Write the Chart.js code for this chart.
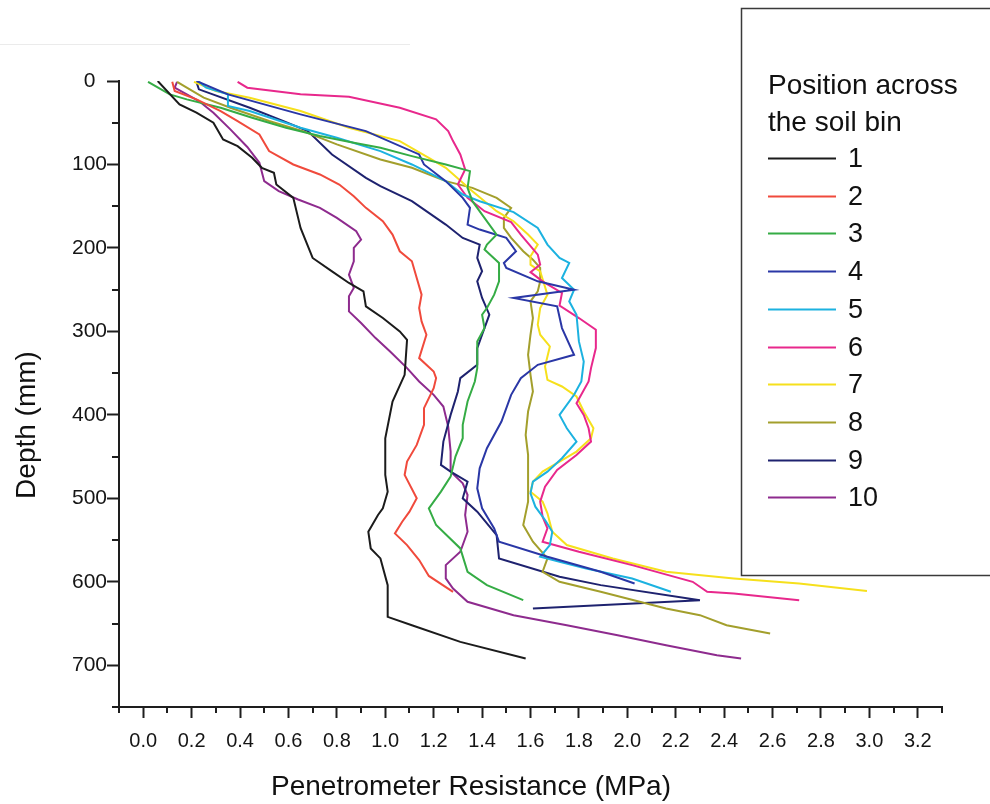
<!DOCTYPE html>
<html>
<head>
<meta charset="utf-8">
<title>Penetrometer resistance profiles</title>
<script src="https://cdn.jsdelivr.net/npm/chart.js@4.4.0/dist/chart.umd.min.js"></script>
<style>
  html, body { margin: 0; padding: 0; background: #ffffff; }
  canvas { display: block; }
</style>
</head>
<body>
<canvas id="chart" width="990" height="804"></canvas>
<script>
// Penetrometer resistance (MPa) against depth (mm) at ten positions across the soil bin.
// Each profile is a list of [resistance, depth] readings.
const pos1 = [[0.06,0],[0.15,28],[0.22,38],[0.29,50],[0.33,70],[0.39,78],[0.45,92],[0.49,104],[0.54,110],[0.55,124],[0.62,140],[0.64,164],[0.65,176],[0.70,212],[0.78,228],[0.85,242],[0.91,252],[0.92,270],[0.99,284],[1.06,300],[1.09,310],[1.08,352],[1.03,384],[1.00,428],[1.00,472],[1.01,492],[0.99,512],[0.97,520],[0.93,540],[0.94,560],[0.98,572],[1.01,604],[1.01,642],[1.11,652],[1.31,672],[1.58,692]];
const pos2 = [[0.12,1],[0.13,12],[0.22,22],[0.32,36],[0.39,48],[0.48,64],[0.52,84],[0.62,100],[0.73,112],[0.81,124],[0.87,138],[0.92,152],[0.99,168],[1.03,184],[1.06,204],[1.11,216],[1.13,236],[1.15,256],[1.14,272],[1.15,288],[1.17,304],[1.14,332],[1.20,348],[1.21,356],[1.20,368],[1.16,392],[1.16,412],[1.13,436],[1.09,456],[1.08,472],[1.13,500],[1.10,516],[1.07,528],[1.04,542],[1.09,556],[1.14,574],[1.18,593],[1.28,612]];
const pos3 = [[0.02,1],[0.11,16],[0.18,22],[0.32,32],[0.45,44],[0.59,56],[0.73,66],[0.87,74],[0.98,80],[1.11,90],[1.25,100],[1.35,108],[1.34,128],[1.36,144],[1.40,160],[1.46,184],[1.42,196],[1.41,202],[1.47,218],[1.47,240],[1.45,256],[1.42,272],[1.40,280],[1.41,296],[1.38,312],[1.38,332],[1.38,344],[1.37,360],[1.34,384],[1.32,412],[1.32,428],[1.29,450],[1.27,474],[1.23,492],[1.18,512],[1.21,532],[1.31,560],[1.34,588],[1.42,604],[1.57,622]];
const pos4 = [[0.22,0],[0.35,16],[0.65,40],[0.92,60],[1.14,88],[1.16,100],[1.25,120],[1.32,140],[1.35,152],[1.34,172],[1.39,178],[1.50,188],[1.54,204],[1.49,218],[1.50,224],[1.63,240],[1.78,250],[1.53,260],[1.71,270],[1.73,296],[1.78,328],[1.63,340],[1.56,356],[1.52,376],[1.48,408],[1.42,440],[1.39,464],[1.38,488],[1.40,512],[1.45,536],[1.47,552],[1.67,570],[1.89,588],[2.03,602]];
const pos5 = [[0.23,1],[0.26,8],[0.35,16],[0.35,30],[0.44,36],[0.65,56],[0.80,68],[0.98,84],[1.11,100],[1.25,120],[1.32,136],[1.39,144],[1.53,157],[1.63,176],[1.67,196],[1.72,212],[1.76,218],[1.73,236],[1.78,250],[1.76,264],[1.79,280],[1.80,312],[1.82,336],[1.81,360],[1.78,376],[1.72,400],[1.75,416],[1.79,432],[1.73,452],[1.67,468],[1.61,480],[1.60,494],[1.62,510],[1.66,526],[1.69,540],[1.68,556],[1.64,570],[1.72,576],[1.83,584],[2.02,596],[2.18,612]];
const pos6 = [[0.39,1],[0.43,8],[0.65,16],[0.85,19],[1.06,32],[1.21,46],[1.26,60],[1.28,72],[1.31,88],[1.33,106],[1.30,124],[1.34,140],[1.41,156],[1.52,169],[1.56,184],[1.63,208],[1.64,220],[1.60,229],[1.65,240],[1.73,254],[1.72,269],[1.80,284],[1.87,298],[1.87,320],[1.85,344],[1.84,360],[1.79,386],[1.82,400],[1.84,416],[1.85,432],[1.79,448],[1.71,466],[1.66,486],[1.64,504],[1.65,522],[1.67,536],[1.65,552],[1.80,564],[2.02,580],[2.27,600],[2.33,612],[2.44,614],[2.71,622]];
const pos7 = [[0.21,1],[0.30,12],[0.44,20],[0.65,36],[0.85,56],[1.06,72],[1.18,92],[1.25,104],[1.36,132],[1.46,156],[1.53,168],[1.59,184],[1.63,196],[1.60,210],[1.60,220],[1.64,228],[1.67,256],[1.64,272],[1.63,292],[1.64,304],[1.68,318],[1.66,342],[1.67,358],[1.73,366],[1.79,378],[1.82,396],[1.86,416],[1.85,428],[1.79,444],[1.72,456],[1.65,468],[1.61,480],[1.60,492],[1.65,504],[1.67,518],[1.69,540],[1.75,556],[1.94,572],[2.16,588],[2.44,596],[2.71,602],[2.99,611]];
const pos8 = [[0.14,1],[0.18,8],[0.25,20],[0.36,32],[0.52,48],[0.66,60],[0.80,76],[0.98,94],[1.11,104],[1.25,120],[1.36,128],[1.46,140],[1.52,152],[1.49,164],[1.49,176],[1.52,188],[1.57,204],[1.61,214],[1.64,224],[1.64,240],[1.63,252],[1.60,264],[1.61,284],[1.60,304],[1.59,328],[1.60,352],[1.61,372],[1.59,396],[1.58,424],[1.59,448],[1.59,480],[1.59,504],[1.57,532],[1.61,552],[1.67,572],[1.65,588],[1.72,600],[1.89,612],[2.16,632],[2.30,640],[2.41,652],[2.59,662]];
const pos9 = [[0.22,1],[0.23,10],[0.44,32],[0.58,48],[0.68,60],[0.78,88],[0.92,116],[0.98,126],[1.11,144],[1.25,172],[1.32,188],[1.39,196],[1.38,212],[1.40,228],[1.38,240],[1.40,260],[1.43,280],[1.40,304],[1.38,320],[1.38,340],[1.31,356],[1.30,372],[1.27,400],[1.24,432],[1.23,460],[1.27,468],[1.34,480],[1.32,500],[1.38,516],[1.46,544],[1.47,572],[1.72,594],[1.89,604],[2.30,622],[1.61,632]];
const pos10 = [[0.14,1],[0.13,8],[0.18,16],[0.23,24],[0.29,38],[0.36,58],[0.43,79],[0.48,98],[0.50,120],[0.56,132],[0.64,142],[0.73,152],[0.80,164],[0.88,180],[0.90,190],[0.87,200],[0.87,216],[0.85,232],[0.87,248],[0.85,258],[0.85,276],[0.90,290],[0.96,308],[1.02,324],[1.09,344],[1.14,360],[1.20,376],[1.24,390],[1.26,414],[1.27,444],[1.27,468],[1.32,482],[1.34,496],[1.33,520],[1.34,540],[1.31,564],[1.25,580],[1.25,596],[1.28,608],[1.34,624],[1.53,640],[1.75,652],[1.96,664],[2.16,676],[2.37,688],[2.47,692]];

const seriesLabels = ['1', '2', '3', '4', '5', '6', '7', '8', '9', '10'];
const xTickLabels = ['0.0','0.2','0.4','0.6','0.8','1.0','1.2','1.4','1.6','1.8','2.0','2.2','2.4','2.6','2.8','3.0','3.2'];
const yTickLabels = ['0','100','200','300','400','500','600','700'];
const legendTitle = ['Position across', 'the soil bin'];
const xTitle = 'Penetrometer Resistance (MPa)';
const yTitle = 'Depth (mm)';

// Line colours, one per position
const lineColors = ['#1b1b1b', '#f04a3c', '#35ac45', '#2a37a6', '#1cb2e0', '#e8288c', '#f6e01c', '#a39f2c', '#1e226f', '#8e2b8e'];

const profiles = [pos1, pos2, pos3, pos4, pos5, pos6, pos7, pos8, pos9, pos10];
const FONT = '"Liberation Sans", Arial, Helvetica, sans-serif';
const AXIS = '#1e1e1e';
const CLEAR = 'rgba(0,0,0,0)';

const datasets = profiles.map((p, i) => ({
  label: seriesLabels[i],
  data: p.map(([x, y]) => ({ x, y })),
  showLine: true,
  borderColor: lineColors[i],
  backgroundColor: lineColors[i],
  borderWidth: 2,
  pointRadius: 0,
  tension: 0,
  fill: false
}));

// Short minor ticks, axis titles and the boxed legend
const decorations = {
  id: 'decorations',
  afterDraw(chart) {
    const { ctx, scales: { x, y } } = chart;
    ctx.save();

    // faint rule along the top left
    ctx.strokeStyle = '#ebebeb';
    ctx.lineWidth = 1;
    ctx.beginPath(); ctx.moveTo(0, 44.5); ctx.lineTo(410, 44.5); ctx.stroke();

    ctx.strokeStyle = AXIS;
    ctx.lineWidth = 2;
    ctx.beginPath();
    for (let t = -1; t <= 33; t += 2) {
      const px = Math.round(x.getPixelForValue(t / 10));
      ctx.moveTo(px, x.top); ctx.lineTo(px, x.top + 6);
    }
    for (let d = 50; d <= 750; d += 100) {
      const py = Math.round(y.getPixelForValue(d));
      ctx.moveTo(y.right, py); ctx.lineTo(y.right - 7, py);
    }
    ctx.stroke();

    // axis titles
    ctx.fillStyle = '#111';
    ctx.textAlign = 'center';
    ctx.textBaseline = 'middle';
    ctx.font = '28px ' + FONT;
    ctx.fillText(xTitle, 471, 787);
    ctx.save();
    ctx.translate(27, 425);
    ctx.rotate(-Math.PI / 2);
    ctx.fillText(yTitle, 0, 0);
    ctx.restore();

    // legend box
    ctx.fillStyle = '#ffffff';
    ctx.fillRect(741, 8, 260, 567);
    ctx.strokeStyle = '#3a3a3a';
    ctx.lineWidth = 1.5;
    ctx.strokeRect(741.5, 8.5, 260, 567);

    ctx.fillStyle = '#111';
    ctx.textAlign = 'left';
    ctx.font = '28px ' + FONT;
    legendTitle.forEach((t, i) => ctx.fillText(t, 768, 86 + i * 37));

    ctx.font = '27px ' + FONT;
    chart.data.datasets.forEach((ds, i) => {
      const yy = Math.round(158 + i * 37.7) + 0.5;
      ctx.strokeStyle = ds.borderColor;
      ctx.lineWidth = 2;
      ctx.beginPath(); ctx.moveTo(768, yy); ctx.lineTo(836, yy); ctx.stroke();
      ctx.fillStyle = '#111';
      ctx.fillText(ds.label, 848, yy + 1);
    });
    ctx.restore();
  }
};

new Chart(document.getElementById('chart'), {
  type: 'scatter',
  data: { datasets },
  options: {
    responsive: false,
    animation: false,
    devicePixelRatio: 1,
    layout: { padding: { top: 81, right: 48, bottom: 0, left: 0 } },
    plugins: { legend: { display: false }, tooltip: { enabled: false } },
    scales: {
      x: {
        type: 'linear',
        position: 'bottom',
        min: -0.1,
        max: 3.3,
        afterFit: s => { s.height = 97; },
        border: { display: true, color: AXIS, width: 2 },
        grid: {
          display: true,
          drawOnChartArea: false,
          drawTicks: true,
          tickLength: 11,
          tickWidth: 2,
          tickColor: c => {
            const r = Math.round(c.tick.value * 10);
            return (r >= 0 && r <= 32 && r % 2 === 0) ? AXIS : CLEAR;
          }
        },
        ticks: {
          stepSize: 0.1,
          autoSkip: false,
          maxRotation: 0,
          padding: 11,
          color: '#151515',
          font: { family: FONT, size: 20 },
          callback: v => {
            const r = Math.round(v * 10);
            return (r >= 0 && r % 2 === 0 && r / 2 < xTickLabels.length) ? xTickLabels[r / 2] : '';
          }
        }
      },
      y: {
        type: 'linear',
        position: 'left',
        reverse: true,
        min: 0,
        max: 750,
        afterFit: s => { s.width = 119; },
        border: { display: true, color: AXIS, width: 2 },
        grid: {
          display: true,
          drawOnChartArea: false,
          drawTicks: true,
          tickLength: 12,
          tickWidth: 2,
          tickColor: c => (c.tick.value % 100 === 0 && c.tick.value <= 700) ? AXIS : CLEAR
        },
        ticks: {
          stepSize: 50,
          autoSkip: false,
          padding: 0,
          crossAlign: 'center',
          color: '#151515',
          font: { family: FONT, size: 21 },
          callback: v => (v % 100 === 0 && v / 100 < yTickLabels.length) ? yTickLabels[v / 100] : ''
        }
      }
    }
  },
  plugins: [decorations]
});
</script>
</body>
</html>
